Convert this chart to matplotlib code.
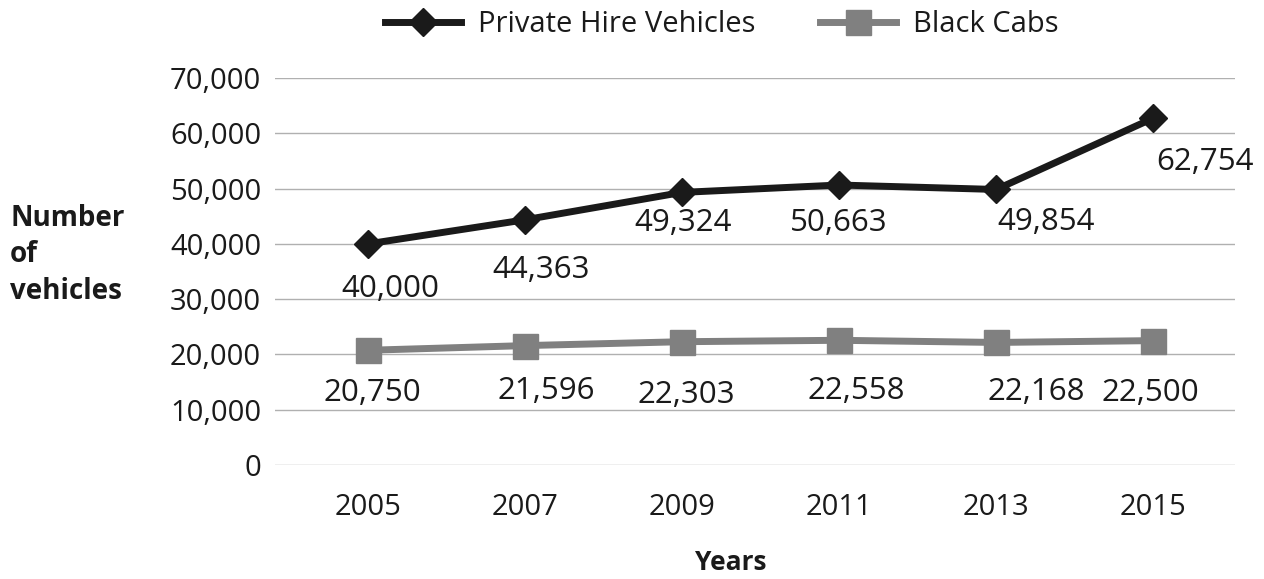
import matplotlib.pyplot as plt
import numpy as np

plt.rcParams['font.family'] = ['Open Sans', 'DejaVu Sans']

years = ['2005', '2007', '2009', '2011', '2013', '2015']
private_hire = [40000, 44363, 49324, 50663, 49854, 62754]
black_cabs = [20750, 21596, 22303, 22558, 22168, 22500]

# label offsets in pixels (dx, dy below point)
phv_offsets = [(23, 45), (16, 50), (1, 31), (0, 38), (50, 33), (52, 44)]
cab_offsets = [(5, 43), (21, 45), (4, 53), (17, 51), (40, 50), (-3, 52)]

fig = plt.figure(figsize=(12.64, 5.79), dpi=100)
ax = fig.add_axes([0.2176, 0.197, 0.7594, 0.668])

x = np.arange(len(years))
ax.plot(x, private_hire, color='#1a1a1a', lw=5, marker='D', ms=14,
        label='Private Hire Vehicles', zorder=3)
ax.plot(x, black_cabs, color='#808080', lw=5, marker='s', ms=18,
        label='Black Cabs', zorder=3)

px = 0.72
for xi, v, (dx, dy) in zip(x, private_hire, phv_offsets):
    ax.annotate(f'{v:,}', (xi, v), xytext=(dx * px, -dy * px), textcoords='offset points',
                ha='center', va='center', fontsize=22.5, color='#1a1a1a')
for xi, v, (dx, dy) in zip(x, black_cabs, cab_offsets):
    ax.annotate(f'{v:,}', (xi, v), xytext=(dx * px, -dy * px), textcoords='offset points',
                ha='center', va='center', fontsize=22.5, color='#1a1a1a')

ax.set_xlim(-0.59, 5.52)
ax.set_ylim(0, 70000)
ax.set_xticks(x)
ax.set_xticklabels(years)
ax.set_yticks(range(0, 70001, 10000))
ax.set_yticklabels([f'{t:,}' for t in range(0, 70001, 10000)])
ax.tick_params(labelsize=21, length=0, pad=10, colors='#1a1a1a')
ax.tick_params(axis='x', pad=20)
ax.grid(axis='y', color='#b0b0b0', lw=1)
ax.set_axisbelow(True)
for s in ax.spines.values():
    s.set_visible(False)

fig.text(0.008, 0.56, 'Number\nof\nvehicles', fontsize=20, fontweight='bold',
         ha='left', va='center', linespacing=1.35, color='#1a1a1a')
fig.text(0.578, 0.028, 'Years', fontsize=19, fontweight='bold',
         ha='center', va='center', color='#1a1a1a')

fig.legend(loc='upper center', bbox_to_anchor=(0.571, 1.028), ncol=2,
           frameon=False, fontsize=21, handlelength=2.6, columnspacing=2.2,
           handletextpad=0.6, labelcolor='#1a1a1a')

fig.savefig('out.png', dpi=100)
